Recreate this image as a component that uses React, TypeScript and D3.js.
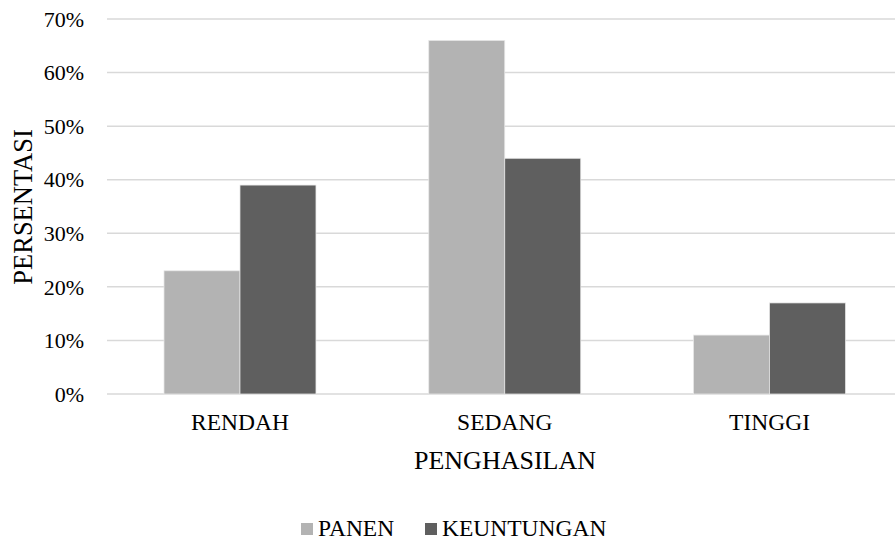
import React from "react";
import * as d3 from "d3";

const categories = ["RENDAH", "SEDANG", "TINGGI"];
const seriesNames = ["PANEN", "KEUNTUNGAN"];
const panen = [0.23, 0.66, 0.11];
const keuntungan = [0.39, 0.44, 0.17];
const yTicks = [0, 0.1, 0.2, 0.3, 0.4, 0.5, 0.6, 0.7];
const colors = ["#b3b3b3", "#5f5f5f"];

const W = 895;
const H = 539;
const FONT = "Liberation Serif, DejaVu Serif, serif";

export default function App() {
  const x0 = d3.scaleBand<string>().domain(categories).range([107.6, 901.9]).paddingInner(0.426).paddingOuter(0.213);
  const x1 = d3.scaleBand<string>().domain(seriesNames).range([0, x0.bandwidth()]);
  const y = d3.scaleLinear().domain([0, 0.7]).range([394, 19]);
  const fmt = d3.format(".0%");
  const seriesData = [panen, keuntungan];

  return (
    <svg width={W} height={H} style={{ position: "absolute", left: 0, top: 0, background: "#fff", fontFamily: FONT }}>
      <rect x={0} y={0} width={W} height={H} fill="#fff" />
      {yTicks.map((t) => (
        <g key={t}>
          <line x1={107} x2={W} y1={y(t)} y2={y(t)} stroke="#d9d9d9" strokeWidth={1.5} />
          <text x={84} y={y(t)} dy="0.35em" textAnchor="end" fontSize={22} fill="#000" style={{ fontFamily: FONT }}>
            {fmt(t)}
          </text>
        </g>
      ))}
      {categories.map((c, i) =>
        seriesNames.map((s, j) => {
          const v = seriesData[j][i];
          return (
            <rect
              key={c + s}
              x={(x0(c) as number) + (x1(s) as number)}
              y={y(v)}
              width={x1.bandwidth()}
              height={y(0) - y(v)}
              fill={colors[j]}
              stroke="#e8e8e8"
              strokeWidth={0.75}
            />
          );
        })
      )}
      {categories.map((c) => (
        <text key={c} x={(x0(c) as number) + x0.bandwidth() / 2} y={430} textAnchor="middle" fontSize={23.5} fill="#000" style={{ fontFamily: FONT }}>
          {c}
        </text>
      ))}
      <text x={505} y={469} textAnchor="middle" fontSize={26} fill="#000" style={{ fontFamily: FONT }}>
        PENGHASILAN
      </text>
      <text transform="translate(32,207) rotate(-90)" textAnchor="middle" fontSize={26.5} fill="#000" style={{ fontFamily: FONT }}>
        PERSENTASI
      </text>
      <rect x={301} y={523} width={12} height={12} fill={colors[0]} />
      <text x={318} y={535.5} fontSize={23.5} fill="#000" style={{ fontFamily: FONT }}>{seriesNames[0]}</text>
      <rect x={425} y={523} width={12} height={12} fill={colors[1]} />
      <text x={442} y={535.5} fontSize={23.5} fill="#000" style={{ fontFamily: FONT }}>{seriesNames[1]}</text>
    </svg>
  );
}
